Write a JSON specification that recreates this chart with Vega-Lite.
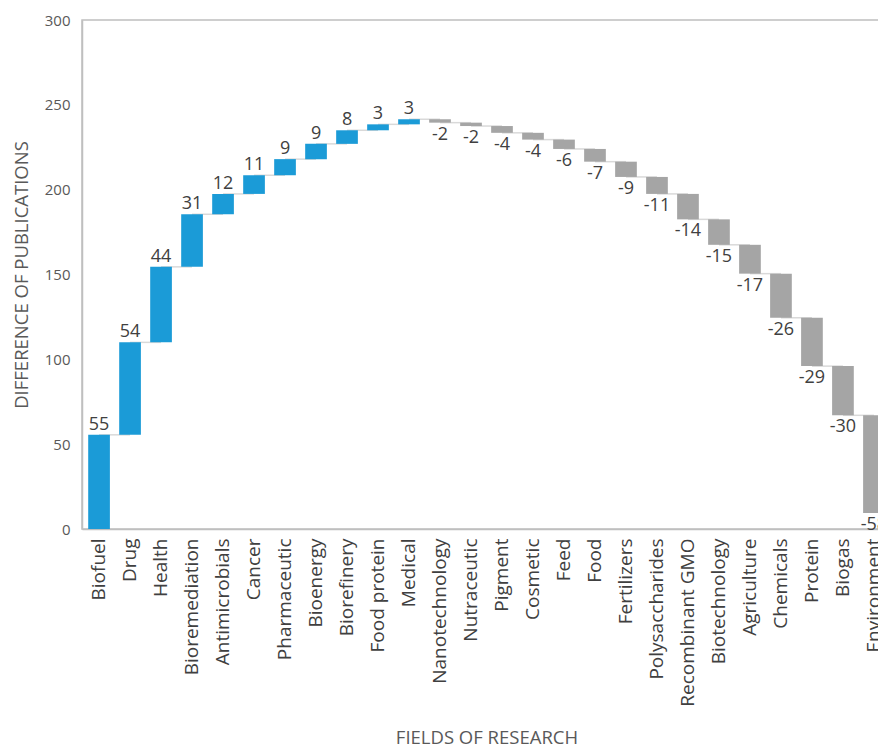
{
  "$schema": "https://vega.github.io/schema/vega-lite/v6.json",
  "width": 809,
  "height": 509,
  "autosize": {"type": "none"},
  "padding": {"left": 82, "top": 20, "right": 0, "bottom": 223},
  "background": "white",
  "config": {
    "font": "Open Sans",
    "view": {"stroke": "#bfbfbf", "strokeWidth": 1.5},
    "axis": {"grid": false, "ticks": false, "domainColor": "#bfbfbf", "domainWidth": 1.5, "labelColor": "#595959", "titleColor": "#595959", "titleFontWeight": "normal", "labelFont": "Open Sans", "titleFont": "Open Sans"}
  },
  "data": {
    "values": [
      {"field": "Biofuel", "value": 55, "start": 0, "end": 55.5, "next": "Drug"},
      {"field": "Drug", "value": 54, "start": 55.5, "end": 110, "next": "Health"},
      {"field": "Health", "value": 44, "start": 110, "end": 154.5, "next": "Bioremediation"},
      {"field": "Bioremediation", "value": 31, "start": 154.5, "end": 185.5, "next": "Antimicrobials"},
      {"field": "Antimicrobials", "value": 12, "start": 185.5, "end": 197.5, "next": "Cancer"},
      {"field": "Cancer", "value": 11, "start": 197.5, "end": 208.5, "next": "Pharmaceutic"},
      {"field": "Pharmaceutic", "value": 9, "start": 208.5, "end": 218, "next": "Bioenergy"},
      {"field": "Bioenergy", "value": 9, "start": 218, "end": 227, "next": "Biorefinery"},
      {"field": "Biorefinery", "value": 8, "start": 227, "end": 235, "next": "Food protein"},
      {"field": "Food protein", "value": 3, "start": 235, "end": 238.5, "next": "Medical"},
      {"field": "Medical", "value": 3, "start": 238.5, "end": 241.5, "next": "Nanotechnology"},
      {"field": "Nanotechnology", "value": -2, "start": 241.5, "end": 239.5, "next": "Nutraceutic"},
      {"field": "Nutraceutic", "value": -2, "start": 239.5, "end": 237.5, "next": "Pigment"},
      {"field": "Pigment", "value": -4, "start": 237.5, "end": 233.5, "next": "Cosmetic"},
      {"field": "Cosmetic", "value": -4, "start": 233.5, "end": 229.5, "next": "Feed"},
      {"field": "Feed", "value": -6, "start": 229.5, "end": 224, "next": "Food"},
      {"field": "Food", "value": -7, "start": 224, "end": 216.5, "next": "Fertilizers"},
      {"field": "Fertilizers", "value": -9, "start": 216.5, "end": 207.5, "next": "Polysaccharides"},
      {"field": "Polysaccharides", "value": -11, "start": 207.5, "end": 197.5, "next": "Recombinant GMO"},
      {"field": "Recombinant GMO", "value": -14, "start": 197.5, "end": 182.5, "next": "Biotechnology"},
      {"field": "Biotechnology", "value": -15, "start": 182.5, "end": 167.5, "next": "Agriculture"},
      {"field": "Agriculture", "value": -17, "start": 167.5, "end": 150.5, "next": "Chemicals"},
      {"field": "Chemicals", "value": -26, "start": 150.5, "end": 124.5, "next": "Protein"},
      {"field": "Protein", "value": -29, "start": 124.5, "end": 96, "next": "Biogas"},
      {"field": "Biogas", "value": -30, "start": 96, "end": 67, "next": "Environment"},
      {"field": "Environment", "value": -58, "start": 67, "end": 9.5, "next": null}
    ]
  },
  "encoding": {
    "x": {
      "field": "field",
      "type": "nominal",
      "sort": null,
      "scale": {"paddingInner": 0.3, "paddingOuter": 0.2},
      "axis": {"title": "FIELDS OF RESEARCH", "labelAngle": 270, "labelFontSize": 19, "labelColor": "#404040", "labelPadding": 9, "titleFontSize": 18.5, "titlePadding": 22, "labelLimit": 250}
    }
  },
  "layer": [
    {
      "transform": [{"filter": "datum.next != null"}],
      "mark": {"type": "rule", "color": "#d9d9d9", "strokeWidth": 1.5},
      "encoding": {
        "x2": {"field": "next"},
        "y": {"field": "end", "type": "quantitative"}
      }
    },
    {
      "mark": {"type": "bar"},
      "encoding": {
        "y": {
          "field": "start",
          "type": "quantitative",
          "scale": {"domain": [0, 300], "nice": false},
          "axis": {"title": "DIFFERENCE OF PUBLICATIONS", "values": [0, 50, 100, 150, 200, 250, 300], "labelFontSize": 15, "labelPadding": 12, "titleFontSize": 18.5, "titlePadding": 13}
        },
        "y2": {"field": "end"},
        "color": {
          "condition": {"test": "datum.value > 0", "value": "#1b9bd7"},
          "value": "#a5a5a5"
        }
      }
    },
    {
      "transform": [{"filter": "datum.value > 0"}],
      "mark": {"type": "text", "baseline": "bottom", "dy": -1, "fontSize": 18, "color": "#404040"},
      "encoding": {
        "y": {"field": "end", "type": "quantitative"},
        "text": {"field": "value"}
      }
    },
    {
      "transform": [{"filter": "datum.value < 0"}],
      "mark": {"type": "text", "baseline": "top", "dy": 3, "fontSize": 18, "color": "#404040"},
      "encoding": {
        "y": {"field": "end", "type": "quantitative"},
        "text": {"field": "value"}
      }
    }
  ]
}
